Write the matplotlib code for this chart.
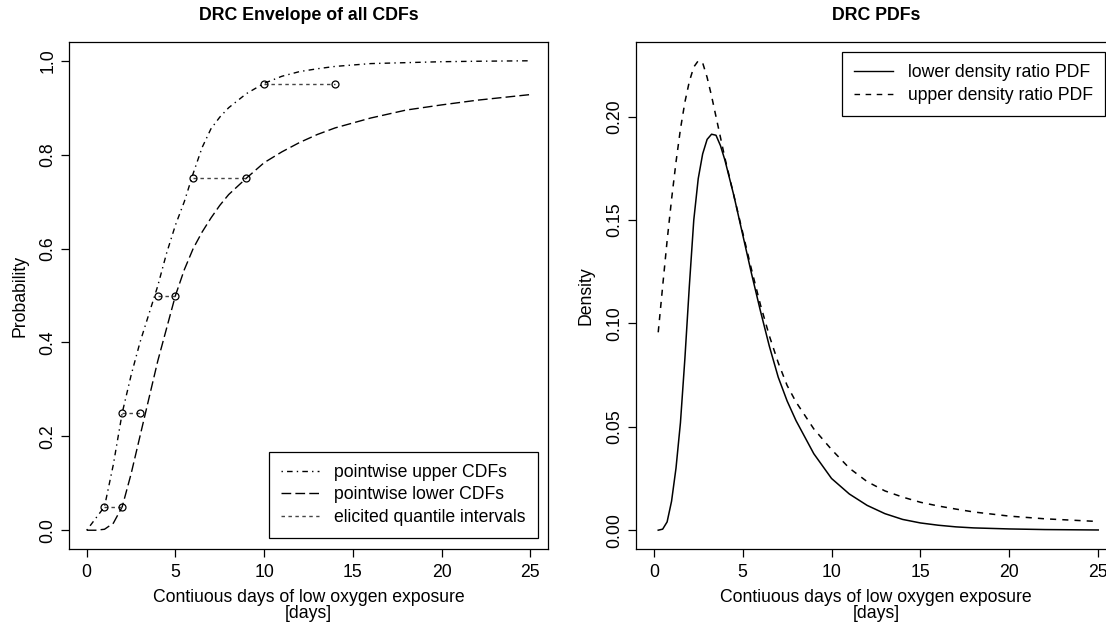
import matplotlib
matplotlib.use("Agg")
import matplotlib.pyplot as plt
from matplotlib.lines import Line2D

plt.rcParams['font.family'] = ['Liberation Sans', 'DejaVu Sans']

# --- left panel: CDF envelope -------------------------------------------
cdf_x = [0, 0.5, 1, 1.5, 2, 2.5, 3, 3.5, 4, 4.5, 5, 5.5, 6, 6.5, 7, 7.5, 8,
         9, 10, 11, 12, 13, 14, 16, 18, 20, 22, 25]
cdf_upper = [0.0, 0.025, 0.05, 0.14, 0.25, 0.33, 0.40, 0.46, 0.52, 0.59,
             0.65, 0.70, 0.76, 0.815, 0.855, 0.88, 0.90, 0.93, 0.952, 0.967,
             0.977, 0.983, 0.988, 0.994, 0.996, 0.998, 0.999, 1.0]
cdf_lower = [0.0, 0.0, 0.002, 0.015, 0.05, 0.12, 0.20, 0.28, 0.36, 0.43,
             0.50, 0.555, 0.60, 0.635, 0.665, 0.692, 0.715, 0.75, 0.783,
             0.806, 0.826, 0.843, 0.857, 0.878, 0.895, 0.906, 0.916, 0.928]

quant_prob = [0.05, 0.25, 0.50, 0.75, 0.95]
quant_low = [1, 2, 4, 6, 10]
quant_high = [2, 3, 5, 9, 14]

# --- right panel: PDFs --------------------------------------------------
pdf_x = [0.25, 0.5, 0.75, 1.0, 1.25, 1.5, 1.75, 2.0, 2.25, 2.5, 2.75, 3.0,
         3.25, 3.5, 3.75, 4.0, 4.5, 5.0, 5.5, 6.0, 6.5, 7.0, 7.5, 8.0, 9.0,
         10.0, 11.0, 12.0, 13.0, 14.0, 15.0, 16.0, 17.0, 18.0, 20.0, 22.0, 25.0]
pdf_lower = [0.0, 0.0005, 0.004, 0.014, 0.03, 0.052, 0.083, 0.118, 0.15,
             0.17, 0.182, 0.189, 0.1915, 0.191, 0.186, 0.179, 0.162, 0.143,
             0.124, 0.106, 0.089, 0.074, 0.0625, 0.053, 0.037, 0.025, 0.0175,
             0.012, 0.008, 0.0052, 0.0035, 0.0024, 0.0016, 0.0011, 0.0006,
             0.0003, 0.0001]
pdf_upper = [0.0957, 0.118, 0.14, 0.16, 0.178, 0.194, 0.207, 0.217, 0.224,
             0.227, 0.226, 0.219, 0.21, 0.20, 0.19, 0.18, 0.162, 0.144,
             0.126, 0.109, 0.094, 0.081, 0.07, 0.062, 0.049, 0.039, 0.030,
             0.0235, 0.019, 0.016, 0.0135, 0.0117, 0.0102, 0.0088, 0.0068,
             0.0055, 0.0042]

xlab = "Contiuous days of low oxygen exposure"
FS = 12.7

W, H = 1106, 625
fig = plt.figure(figsize=(W / 100, H / 100), dpi=100)


def px_axes(x0, x1, y0, y1):
    return fig.add_axes([x0 / W, 1 - y1 / H, (x1 - x0) / W, (y1 - y0) / H])


def r_style(ax, title, ylabel, ylab_x):
    for s in ax.spines.values():
        s.set_linewidth(0.9)
    ax.tick_params(direction='out', length=6, width=0.9, labelsize=FS, pad=5)
    ax.tick_params(axis='y', labelrotation=90, pad=3)
    for lab in ax.get_yticklabels():
        lab.set_va('center')
    ax.text(0.5, 1 + 27 / 507, title, transform=ax.transAxes,
            ha='center', va='center', fontsize=12.8, fontweight='bold')
    ax.text(0.5, -0.0947, xlab, transform=ax.transAxes,
            ha='center', va='center', fontsize=FS)
    ax.text(0.5, -0.127, "[days]", transform=ax.transAxes,
            ha='center', va='center', fontsize=FS)
    ax.set_ylabel(ylabel, fontsize=FS)
    ax.yaxis.label.set_va('center')
    ax.yaxis.set_label_coords(ylab_x, 0.5)


def r_legend(ax, handles, labels, **kw):
    leg = ax.legend(handles, labels, borderaxespad=0, fontsize=FS,
                    fancybox=False, edgecolor='black', framealpha=1,
                    handlelength=2.2, handletextpad=0.85, labelspacing=0.32,
                    borderpad=0.68, **kw)
    leg.get_frame().set_linewidth(0.9)
    return leg


# left panel
ax1 = px_axes(69, 548, 42, 549)
ax1.plot(cdf_x, cdf_upper, color='black', lw=1, dashes=(1, 3, 4, 3))
ax1.plot(cdf_x, cdf_lower, color='black', lw=1, dashes=(7, 3))
for p, lo, hi in zip(quant_prob, quant_low, quant_high):
    ax1.plot([lo, hi], [p, p], color='#444444', lw=1, dashes=(2.5, 2.5))
    ax1.plot([lo, hi], [p, p], ls='none', marker='o', ms=5, mfc='none',
             mec='black', mew=0.9)
ax1.set_xlim(-1, 26)
ax1.set_ylim(-0.04, 1.04)
ax1.set_xticks([0, 5, 10, 15, 20, 25])
ax1.set_yticks([0.0, 0.2, 0.4, 0.6, 0.8, 1.0])
ax1.set_yticklabels(["0.0", "0.2", "0.4", "0.6", "0.8", "1.0"])
r_style(ax1, "DRC Envelope of all CDFs", "Probability", -0.102)

handles1 = [
    Line2D([], [], color='black', lw=1, dashes=(1, 3, 4, 3)),
    Line2D([], [], color='black', lw=1, dashes=(7, 3)),
    Line2D([], [], color='#444444', lw=1, dashes=(2.5, 2.5)),
]
r_legend(ax1, handles1, ["pointwise upper CDFs", "pointwise lower CDFs",
                         "elicited quantile intervals"],
         loc='lower right', bbox_to_anchor=(0.979, 0.0217))

# right panel (extends past the right edge of the picture)
ax2 = px_axes(636, 1116, 42, 549)
ax2.plot(pdf_x, pdf_lower, color='black', lw=1.1)
ax2.plot(pdf_x, pdf_upper, color='black', lw=1.1, dashes=(4, 4))
ax2.set_xlim(-1, 26)
ax2.set_ylim(-0.0091, 0.2361)
ax2.set_xticks([0, 5, 10, 15, 20, 25])
ax2.set_yticks([0.0, 0.05, 0.10, 0.15, 0.20])
ax2.set_yticklabels(["0.00", "0.05", "0.10", "0.15", "0.20"])
r_style(ax2, "DRC PDFs", "Density", -0.104)

handles2 = [
    Line2D([], [], color='black', lw=1),
    Line2D([], [], color='black', lw=1, dashes=(4, 4)),
]
r_legend(ax2, handles2, ["lower density ratio PDF", "upper density ratio PDF"],
         loc='upper right', bbox_to_anchor=(0.977, 0.980))

fig.savefig("out.png", dpi=100)
